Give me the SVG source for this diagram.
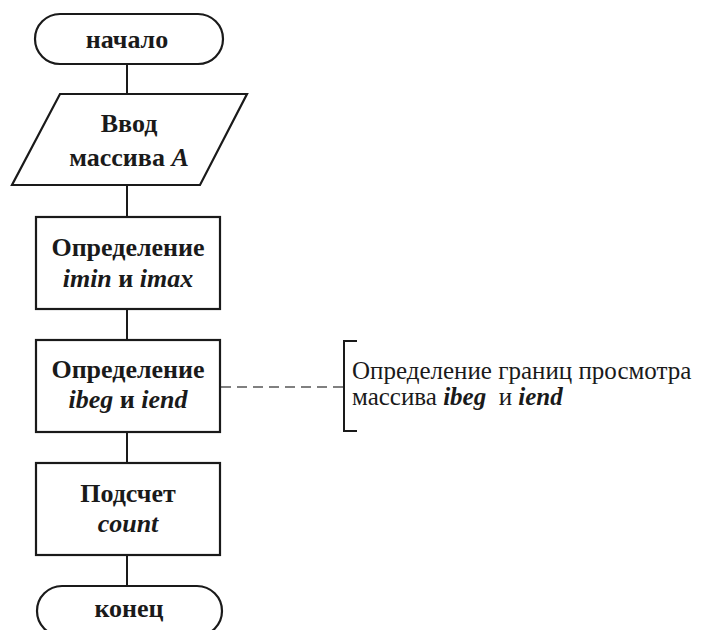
<svg xmlns="http://www.w3.org/2000/svg" width="706" height="630" viewBox="0 0 706 630">
<style>
.shape{fill:#fff;stroke:#1a1a1a;stroke-width:2.2}
.line{stroke:#1a1a1a;stroke-width:2;fill:none}
.dash{stroke:#808080;stroke-width:2;stroke-dasharray:10 6;fill:none}
text{font-family:'Liberation Serif','Times New Roman',serif;fill:#1a1a1a}
.t{font-size:26px;font-weight:bold;text-anchor:middle}
.i{font-style:italic}
.n{font-size:25px;white-space:pre}
.b{font-weight:bold;font-style:italic}
</style>
<rect width="706" height="630" fill="#fff"/>
<g id="connectors">
<line class="line" x1="127" y1="64" x2="127" y2="94"/>
<line class="line" x1="127" y1="185" x2="127" y2="217"/>
<line class="line" x1="127" y1="309" x2="127" y2="340"/>
<line class="line" x1="127" y1="432" x2="127" y2="463"/>
<line class="line" x1="127" y1="555" x2="127" y2="586"/>
<line class="dash" x1="221" y1="387" x2="344" y2="387"/>
</g>
<g id="start">
<rect class="shape" x="35" y="14" width="188" height="50" rx="25"/>
<text class="t" x="127" y="48">начало</text>
</g>
<g id="input">
<polygon class="shape" points="60,94 247,94 200,185 12,185"/>
<text class="t" x="129" y="132">Ввод</text>
<text class="t" x="129" y="166">массива <tspan class="i">A</tspan></text>
</g>
<g id="minmax">
<rect class="shape" x="36" y="217" width="184" height="92"/>
<text class="t" x="128" y="256">Определение</text>
<text class="t" x="128" y="287"><tspan class="i">imin</tspan> и <tspan class="i">imax</tspan></text>
</g>
<g id="begend">
<rect class="shape" x="36" y="340" width="184" height="92"/>
<text class="t" x="128" y="378">Определение</text>
<text class="t" x="128" y="408"><tspan class="i">ibeg</tspan> и <tspan class="i">iend</tspan></text>
</g>
<g id="count">
<rect class="shape" x="36" y="463" width="184" height="92"/>
<text class="t" x="128" y="502">Подсчет</text>
<text class="t" x="128" y="532"><tspan class="i">count</tspan></text>
</g>
<g id="end">
<rect class="shape" x="37" y="586" width="185" height="50" rx="25"/>
<text class="t" x="129" y="617">конец</text>
</g>
<g id="comment">
<path class="line" d="M357,341 H344 V431 H357"/>
<text class="n" x="352" y="379">Определение границ просмотра</text>
<text class="n" x="352" y="405">массива <tspan class="b">ibeg</tspan>  и <tspan class="b">iend</tspan></text>
</g>
</svg>
